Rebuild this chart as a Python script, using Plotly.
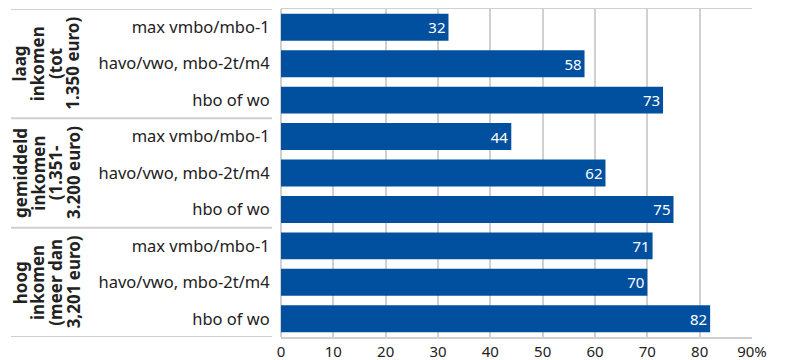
import plotly.graph_objects as go

# Data
groepen = [["laag", "inkomen", "(tot", "1.350 euro)"],
           ["gemiddeld", "inkomen", "(1.351-", "3.200 euro)"],
           ["hoog", "inkomen", "(meer dan", "3,201 euro)"]]
opleidingen = ["max vmbo/mbo-1", "havo/vwo, mbo-2t/m4", "hbo of wo"]
waarden = [32, 58, 73, 44, 62, 75, 71, 70, 82]
x_ticks = [0, 10, 20, 30, 40, 50, 60, 70, 80, 90]
x_ticktext = ["0", "10", "20", "30", "40", "50", "60", "70", "80", "90%"]

blauw = "#01509F"
grijs = "#D0D0D0"
font = "Noto Sans"

n = len(waarden)
y_pos = list(range(n))
labels = [opleidingen[i % 3] for i in range(n)]

fig = go.Figure(go.Bar(
    x=waarden, y=y_pos, orientation="h",
    marker=dict(color=blauw, line=dict(width=0)),
    width=0.74,
    text=[str(v) for v in waarden],
    textposition="inside", insidetextanchor="end",
    textfont=dict(color="white", size=15, family=font),
    cliponaxis=False,
))

# scheidingslijnen tussen de groepen, op een eigen x-as links van de grafiek
sep_x, sep_y = [], []
for g in range(len(groepen) + 1):
    b = g * 3 - 0.5
    sep_x += [0, 1, None]
    sep_y += [b, b, None]
fig.add_trace(go.Scatter(
    x=sep_x, y=sep_y, xaxis="x2", yaxis="y", mode="lines",
    line=dict(color=grijs, width=2), hoverinfo="skip",
))

# groepslabels, regel voor regel gedraaid
for g, regels in enumerate(groepen):
    k = len(regels)
    for j, regel in enumerate(regels):
        fig.add_annotation(
            text="<b>" + regel + "</b>", textangle=-90,
            xref="x2", yref="y", x=0.136, y=g * 3 + 1,
            xanchor="center", yanchor="middle",
            xshift=(j - (k - 1) / 2) * 17.7,
            showarrow=False, font=dict(size=17, family=font, color="#222"),
        )

# pagina heeft 8px body-marge, figuur daarom 8px kleiner
fig.update_layout(
    width=784, height=352,
    margin=dict(l=3, r=40, t=1, b=23, autoexpand=False),
    plot_bgcolor="white", paper_bgcolor="white",
    showlegend=False,
    font=dict(family=font, size=15, color="#222"),
    xaxis2=dict(domain=[0, 0.3522], range=[0, 1], anchor="y",
                visible=False, showgrid=False, zeroline=False),
)
fig.layout.xaxis.update(
    domain=[0.3644, 1],
    range=[0, 90], tickvals=x_ticks, ticktext=x_ticktext,
    showgrid=True, gridcolor=grijs, gridwidth=1.5,
    showline=True, linecolor=grijs, linewidth=2, mirror=True,
    zeroline=True, zerolinecolor=grijs, zerolinewidth=2,
    ticks="", tickfont=dict(size=15), automargin=False,
)
fig.update_yaxes(
    range=[8.5, -0.5], tickvals=y_pos, ticktext=labels,
    showgrid=False, showline=False, mirror=False,
    zeroline=False, ticks="outside", ticklen=7, tickcolor="rgba(0,0,0,0)",
    tickfont=dict(size=16.5), automargin=False,
)

fig.write_html("out.html")
